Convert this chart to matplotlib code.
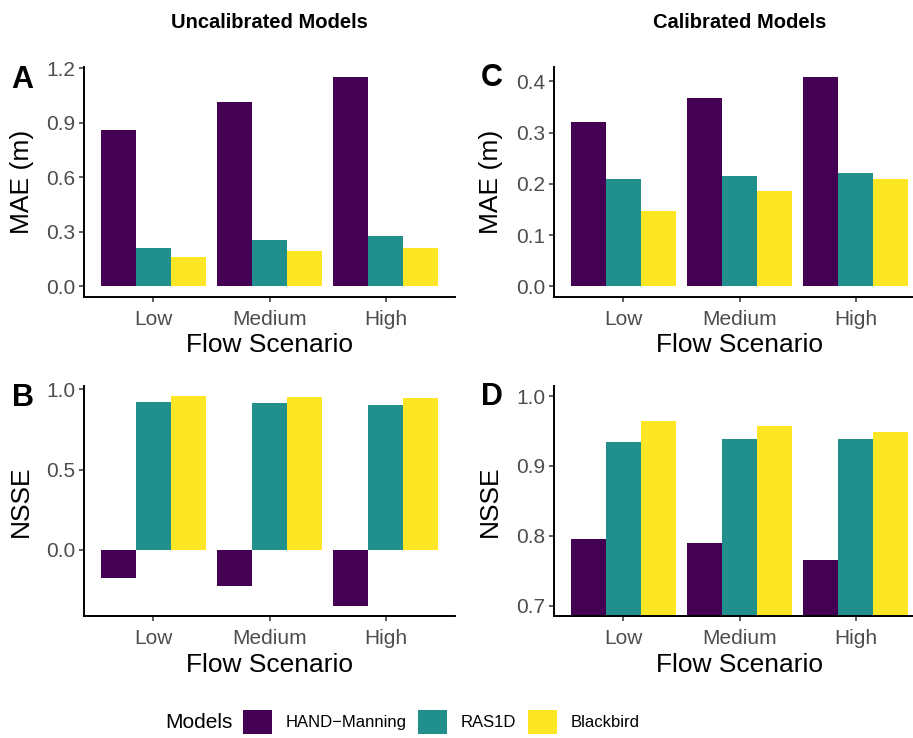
import numpy as np
import matplotlib
matplotlib.use('Agg')
import matplotlib.pyplot as plt
from matplotlib.patches import Patch

plt.rcParams['font.family'] = ['Liberation Sans', 'DejaVu Sans']

# 数据
scenarios = ['Low', 'Medium', 'High']
models = ['HAND\u2212Manning', 'RAS1D', 'Blackbird']
colors = ['#440154', '#21908C', '#FDE725']

mae_uncal_hand = [0.861, 1.015, 1.152]
mae_uncal_ras = [0.211, 0.255, 0.277]
mae_uncal_bb = [0.161, 0.194, 0.211]

mae_cal_hand = [0.321, 0.367, 0.408]
mae_cal_ras = [0.209, 0.215, 0.221]
mae_cal_bb = [0.147, 0.186, 0.209]

nsse_uncal_hand = [-0.175, -0.225, -0.349]
nsse_uncal_ras = [0.921, 0.915, 0.902]
nsse_uncal_bb = [0.958, 0.952, 0.946]

nsse_cal_hand = [0.796, 0.790, 0.766]
nsse_cal_ras = [0.935, 0.939, 0.939]
nsse_cal_bb = [0.965, 0.957, 0.949]

W, H = 913, 738
fig = plt.figure(figsize=(W / 100, H / 100), dpi=100)


def add_panel(left, top, right, bottom):
    return fig.add_axes([left / W, 1 - bottom / H, (right - left) / W, (bottom - top) / H])


def draw_panel(ax, series, yticks, ylim, ylabel):
    x = np.arange(1, len(scenarios) + 1)
    bw = 0.3
    for i, vals in enumerate(series):
        ax.bar(x + (i - 1) * bw, vals, width=bw, color=colors[i], linewidth=0)
    ax.set_xlim(0.4, 3.6)
    ax.set_ylim(*ylim)
    ax.set_xticks(x)
    ax.set_xticklabels(scenarios)
    ax.set_yticks(yticks)
    ax.set_yticklabels([f'{t:.1f}' for t in yticks])
    for s in ['top', 'right']:
        ax.spines[s].set_visible(False)
    for s in ['left', 'bottom']:
        ax.spines[s].set_linewidth(1.4)
        ax.spines[s].set_color('black')
    ax.tick_params(axis='both', length=3.5, width=1.1, color='#333333',
                   labelsize=15, labelcolor='#4D4D4D', pad=2.5)
    ax.tick_params(axis='x', pad=6)
    ax.set_xlabel('Flow Scenario', fontsize=19, labelpad=3)
    ax.set_ylabel(ylabel, fontsize=19)


# 坐标轴位置（像素）
axA = add_panel(83.6, 66.7, 455.4, 296.8)
axC = add_panel(553.6, 66.7, 925.4, 296.8)
axB = add_panel(83.6, 385.6, 455.4, 616.2)
axD = add_panel(553.6, 385.6, 925.4, 616.2)

draw_panel(axA, [mae_uncal_hand, mae_uncal_ras, mae_uncal_bb],
           [0.0, 0.3, 0.6, 0.9, 1.2], (-0.0576, 1.2096), 'MAE (m)')
draw_panel(axC, [mae_cal_hand, mae_cal_ras, mae_cal_bb],
           [0.0, 0.1, 0.2, 0.3, 0.4], (-0.0204, 0.4284), 'MAE (m)')
draw_panel(axB, [nsse_uncal_hand, nsse_uncal_ras, nsse_uncal_bb],
           [0.0, 0.5, 1.0], (-0.414, 1.023), 'NSSE')
draw_panel(axD, [nsse_cal_hand, nsse_cal_ras, nsse_cal_bb],
           [0.7, 0.8, 0.9, 1.0], (0.685, 1.015), 'NSSE')

# y轴标题位置
for ax, xpx in [(axA, 23), (axB, 22), (axC, 491.5), (axD, 491)]:
    pos = ax.get_position()
    ax.yaxis.set_label_coords(((xpx + 11) / W - pos.x0) / pos.width, 0.5)

# 面板字母
for letter, xpx, ypx in [('A', 22.5, 79.5), ('B', 22.5, 398.5), ('C', 492, 77.5), ('D', 492, 397.5)]:
    fig.text(xpx / W, 1 - ypx / H, letter, fontsize=22, fontweight='bold',
             ha='center', va='center')

# 列标题
fig.text(269.5 / W, 1 - 23 / H, 'Uncalibrated Models', fontsize=14.5,
         fontweight='bold', ha='center', va='center')
fig.text(739.3 / W, 1 - 23 / H, 'Calibrated Models', fontsize=14.5,
         fontweight='bold', ha='center', va='center')

# 图例
handles = [Patch(facecolor=c, edgecolor='none') for c in colors]
fig.legend(handles, models, loc='center', bbox_to_anchor=(441 / W, 1 - 722 / H),
           ncol=3, frameon=False, fontsize=12, handlelength=1.76, handleheight=1.9,
           handletextpad=0.8, columnspacing=0.7, borderpad=0, borderaxespad=0)
fig.text(198.5 / W, 1 - 722 / H, 'Models', fontsize=15, ha='center', va='center')

plt.savefig('out.png', dpi=100)
